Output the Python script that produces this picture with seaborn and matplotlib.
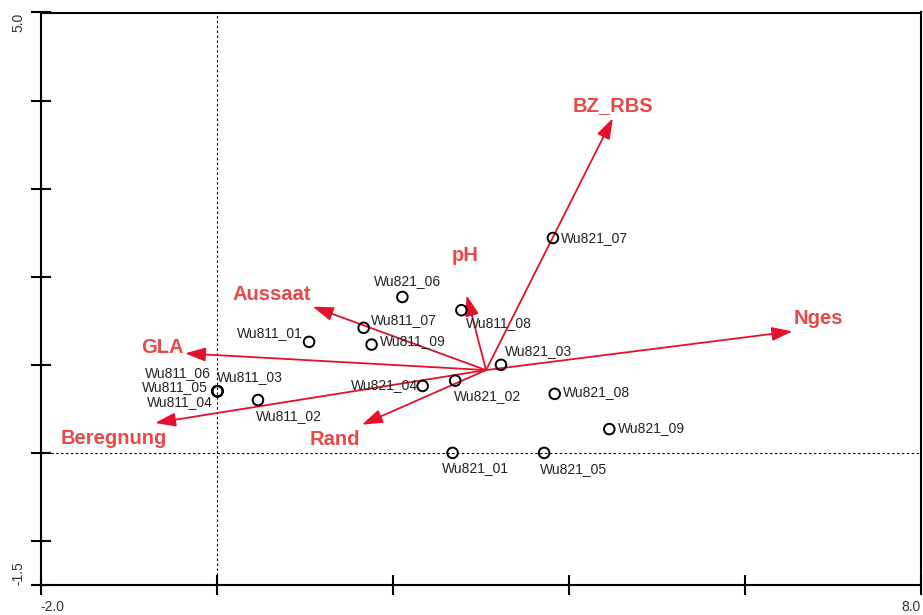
import matplotlib
matplotlib.use("Agg")
import matplotlib.pyplot as plt
import seaborn as sns
import pandas as pd

# Sample scores (axis 1, axis 2)
sites = ["Wu811_01", "Wu811_02", "Wu811_03", "Wu811_04", "Wu811_05", "Wu811_06",
         "Wu811_07", "Wu811_08", "Wu811_09",
         "Wu821_01", "Wu821_02", "Wu821_03", "Wu821_04", "Wu821_05", "Wu821_06",
         "Wu821_07", "Wu821_08", "Wu821_09"]
site_x = [1.05, 0.47, 0.01, 0.01, 0.01, 0.01, 1.67, 2.78, 1.76,
          2.68, 2.71, 3.23, 2.34, 3.72, 2.11, 3.82, 3.84, 4.46]
site_y = [1.26, 0.60, 0.70, 0.70, 0.70, 0.70, 1.42, 1.62, 1.23,
          0.00, 0.82, 1.00, 0.76, 0.00, 1.77, 2.44, 0.67, 0.27]

# Environmental variables: arrows drawn from a common start point
env_vars = ["BZ_RBS", "pH", "Nges", "Aussaat", "GLA", "Beregnung", "Rand"]
env_x = [4.50, 2.84, 6.54, 1.09, -0.36, -0.70, 1.65]
env_y = [3.80, 1.79, 1.38, 1.66, 1.13, 0.34, 0.32]
arrow_start = (3.06, 0.94)

x_ticks = [-2, 0, 2, 4, 6, 8]
x_tick_labels = ["-2.0", "", "", "", "", "8.0"]
y_ticks = [-1.5, -1, 0, 1, 2, 3, 4, 5]
y_tick_labels = ["-1.5", "", "", "", "", "", "", "5.0"]

# Label placement (offset in pixels, horizontal alignment)
site_label_pos = {
    "Wu811_01": (-6, 9, "right"), "Wu811_02": (-2, -16, "left"),
    "Wu811_03": (-1, 14, "left"), "Wu811_04": (-5, -11, "right"),
    "Wu811_05": (-10, 4, "right"), "Wu811_06": (-7, 18, "right"),
    "Wu811_07": (7, 8, "left"), "Wu811_08": (5, -13, "left"),
    "Wu811_09": (8, 4, "left"), "Wu821_01": (-11, -15, "left"),
    "Wu821_02": (-1, -15, "left"), "Wu821_03": (4, 14, "left"),
    "Wu821_04": (-5, 1, "right"), "Wu821_05": (-4, -16, "left"),
    "Wu821_06": (5, 16, "center"), "Wu821_07": (8, 0, "left"),
    "Wu821_08": (8, 2, "left"), "Wu821_09": (9, 1, "left"),
}
env_label_pos = {
    "BZ_RBS": (0, 13), "pH": (-2, 40), "Nges": (26, 13), "Aussaat": (-41, 12),
    "GLA": (-23, 6), "Beregnung": (-41, -16), "Rand": (-27, -15),
}

FONT = ["Liberation Sans", "DejaVu Sans"]
ARROW_RED = "#e3112c"
LABEL_RED = "#e84848"

sns.set_theme(style="white")
plt.rcParams["font.family"] = FONT

fig = plt.figure(figsize=(9.23, 6.15), dpi=100)
ax = fig.add_axes([40.5 / 923, 30 / 615, 880.5 / 923, 572.5 / 615])

df = pd.DataFrame({"site": sites, "x": site_x, "y": site_y})

ax.axvline(0, color="black", lw=0.8, ls=(0, (2.2, 2.2)), zorder=1)
ax.axhline(0, color="black", lw=0.8, ls=(0, (2.2, 2.2)), zorder=1)

for name, ex, ey in zip(env_vars, env_x, env_y):
    ax.annotate("", xy=(ex, ey), xytext=arrow_start,
                arrowprops=dict(arrowstyle="-|>,head_length=1.25,head_width=0.42",
                                color=ARROW_RED, lw=1.3, mutation_scale=10,
                                shrinkA=0, shrinkB=0), zorder=2)
    dx, dy = env_label_pos[name]
    ax.annotate(name, xy=(ex, ey), xytext=(dx, dy), textcoords="offset pixels",
                ha="center", va="center", fontsize=14.5, fontweight="bold",
                color=LABEL_RED, zorder=4)

sns.scatterplot(data=df, x="x", y="y", ax=ax, marker="o", s=58,
                facecolor="none", edgecolor="black", linewidth=1.4, zorder=3,
                legend=False)

for name, sx, sy in zip(sites, site_x, site_y):
    dx, dy, ha = site_label_pos[name]
    ax.annotate(name, xy=(sx, sy), xytext=(dx, dy), textcoords="offset pixels",
                ha=ha, va="center", fontsize=10, color="#222222", zorder=4)

ax.set_xlim(-2, 8)
ax.set_ylim(-1.5, 5)
ax.set_xlabel("")
ax.set_ylabel("")
ax.set_xticks(x_ticks)
ax.set_xticklabels(x_tick_labels)
ax.set_yticks(y_ticks)
ax.set_yticklabels(y_tick_labels, rotation=90)

ax.tick_params(axis="both", direction="inout", length=14, width=1.5,
               color="black", labelsize=10, labelcolor="#333333", pad=4,
               bottom=True, left=True, top=False, right=False)
xl = ax.get_xticklabels()
xl[0].set_ha("left")
xl[-1].set_ha("right")
yl = ax.get_yticklabels()
yl[0].set_va("bottom")
yl[-1].set_va("top")

for sp in ax.spines.values():
    sp.set_visible(True)
    sp.set_color("black")
    sp.set_linewidth(1.5)

fig.savefig("out.png", dpi=100)
